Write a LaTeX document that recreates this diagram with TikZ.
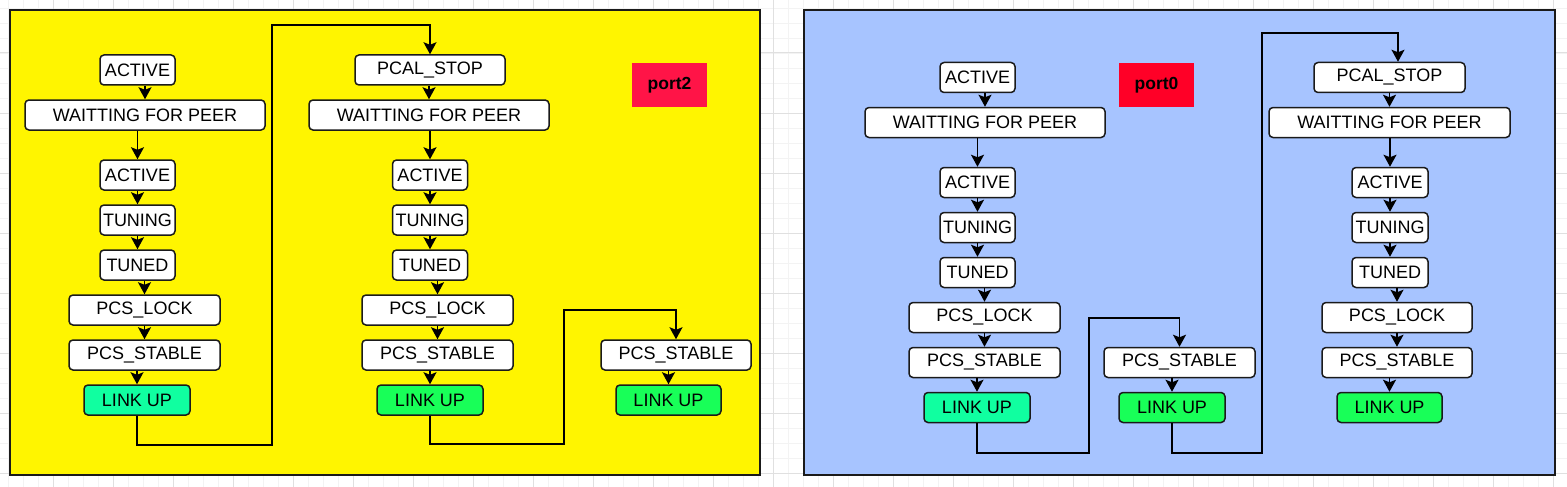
\documentclass[tikz,border=0pt]{standalone}
\usepackage{fontspec}
\setmainfont{Liberation Sans}
\usetikzlibrary{arrows.meta,calc}
\definecolor{yel}{HTML}{FFF500}
\definecolor{blu}{HTML}{A7C4FF}
\definecolor{redA}{HTML}{FF1447}
\definecolor{redB}{HTML}{FF0027}
\definecolor{grnA}{HTML}{10FFA0}
\definecolor{grnB}{HTML}{18FF58}
\definecolor{edge}{HTML}{1A1A1A}
\definecolor{gmin}{HTML}{F3F3F3}
\definecolor{gmaj}{HTML}{E0E0E0}
\tikzset{
  st/.style={draw=edge, line width=1.5pt, rounded corners=4pt, fill=white,
    minimum height=30pt, inner sep=0pt, text=black,
    font=\fontsize{18}{21}\selectfont},
  link/.style={st, fill=grnB},
  linka/.style={st, fill=grnA},
  port/.style={draw=none, minimum width=75pt, minimum height=44pt, inner sep=0pt,
    font=\bfseries\fontsize{17.5}{20}\selectfont},
  panel/.style={draw=edge, line width=1.5pt},
  arr/.style={draw=black, line width=1.6pt, -{Stealth[length=12pt,width=13pt,inset=2.5pt]}},
  minorgrid/.style={draw=gmin, line width=0.8pt},
  majorgrid/.style={draw=gmaj, line width=1pt}
}
\begin{document}
\begin{tikzpicture}[x=1pt,y=-1pt]
\useasboundingbox (0,0) rectangle (1567,487);
\fill[white] (0,0) rectangle (1567,487);
% grid
\foreach \i in {0,...,104} \draw[minorgrid] (8+15*\i,0) -- (8+15*\i,487);
\foreach \i in {0,...,32} \draw[minorgrid] (0,8+15*\i) -- (1567,8+15*\i);
\foreach \i in {0,...,25} \draw[majorgrid] (53+60*\i,0) -- (53+60*\i,487);
\foreach \i in {0,...,7} \draw[majorgrid] (0,53+60*\i) -- (1567,53+60*\i);
% panels
\filldraw[panel, fill=yel] (10,10) rectangle (760,475);
\filldraw[panel, fill=blu] (804,10) rectangle (1555,475);

% ---------- left panel ----------
\node[st, minimum width=75pt]  (a1) at (137.5,70)  {ACTIVE};
\node[st, minimum width=240pt] (a2) at (145,115)   {WAITTING FOR PEER};
\node[st, minimum width=75pt]  (a3) at (137.5,175) {ACTIVE};
\node[st, minimum width=75pt]  (a4) at (137.5,220) {TUNING};
\node[st, minimum width=75pt]  (a5) at (137.5,265) {TUNED};
\node[st, minimum width=151pt] (a6) at (144.5,310) {PCS\_LOCK};
\node[st, minimum width=151pt] (a7) at (144.5,355) {PCS\_STABLE};
\node[linka, minimum width=106pt] (a8) at (137,400) {LINK UP};

\node[st, minimum width=150pt] (b1) at (430,70)    {PCAL\_STOP};
\node[st, minimum width=240pt] (b2) at (429,115)   {WAITTING FOR PEER};
\node[st, minimum width=75pt]  (b3) at (430,175)   {ACTIVE};
\node[st, minimum width=75pt]  (b4) at (430,220)   {TUNING};
\node[st, minimum width=75pt]  (b5) at (430,265)   {TUNED};
\node[st, minimum width=151pt] (b6) at (437.5,310) {PCS\_LOCK};
\node[st, minimum width=151pt] (b7) at (437.5,355) {PCS\_STABLE};
\node[link, minimum width=106pt] (b8) at (430,400) {LINK UP};

\node[st, minimum width=150pt] (c1) at (676,355)   {PCS\_STABLE};
\node[link, minimum width=105pt] (c2) at (668.5,400) {LINK UP};

\node[port, fill=redA] (p2) at (669.5,85) {port2};

\foreach \s/\t in {a1/a2,a2/a3,a3/a4,a4/a5,a5/a6,a6/a7,a7/a8,
                   b1/b2,b2/b3,b3/b4,b4/b5,b5/b6,b6/b7,b7/b8,c1/c2}
  \draw[arr] (\s.south -| \t.north) -- (\t.north);

\draw[arr] (a8.south) -- (a8.south |- 0,445) -- (272,445) -- (272,25)
  -- (b1.north |- 0,25) -- (b1.north);
\draw[arr] (b8.south) -- (b8.south |- 0,444) -- (564,444) -- (564,310)
  -- (c1.north |- 0,310) -- (c1.north);

% ---------- right panel ----------
\node[st, minimum width=75pt]  (d1) at (977.5,77.5)  {ACTIVE};
\node[st, minimum width=240pt] (d2) at (985,122.5)   {WAITTING FOR PEER};
\node[st, minimum width=75pt]  (d3) at (977.5,182.5) {ACTIVE};
\node[st, minimum width=75pt]  (d4) at (977.5,227.5) {TUNING};
\node[st, minimum width=75pt]  (d5) at (977.5,272.5) {TUNED};
\node[st, minimum width=151pt] (d6) at (984.5,317.5) {PCS\_LOCK};
\node[st, minimum width=151pt] (d7) at (984.5,362.5) {PCS\_STABLE};
\node[linka, minimum width=106pt] (d8) at (977,407.5) {LINK UP};

\node[st, minimum width=151pt] (e1) at (1179.5,362.5) {PCS\_STABLE};
\node[link, minimum width=106pt] (e2) at (1172,407.5) {LINK UP};

\node[st, minimum width=151pt] (f1) at (1389.5,77.5)  {PCAL\_STOP};
\node[st, minimum width=241pt] (f2) at (1389.5,122.5) {WAITTING FOR PEER};
\node[st, minimum width=76pt]  (f3) at (1390,182.5)   {ACTIVE};
\node[st, minimum width=76pt]  (f4) at (1390,227.5)   {TUNING};
\node[st, minimum width=76pt]  (f5) at (1390,272.5)   {TUNED};
\node[st, minimum width=150pt] (f6) at (1397,317.5)   {PCS\_LOCK};
\node[st, minimum width=150pt] (f7) at (1397,362.5)   {PCS\_STABLE};
\node[link, minimum width=105pt] (f8) at (1389.5,407.5) {LINK UP};

\node[port, fill=redB] (p0) at (1156.5,85) {port0};

\foreach \s/\t in {d1/d2,d2/d3,d3/d4,d4/d5,d5/d6,d6/d7,d7/d8,e1/e2,
                   f1/f2,f2/f3,f3/f4,f4/f5,f5/f6,f6/f7,f7/f8}
  \draw[arr] (\s.south -| \t.north) -- (\t.north);

\coordinate (f1in) at ($(f1.north)+(8.5,0)$);
\draw[arr] (d8.south) -- (d8.south |- 0,453) -- (1089,453) -- (1089,318)
  -- (e1.north |- 0,318) -- (e1.north);
\draw[arr] (e2.south) -- (e2.south |- 0,453) -- (1262,453) -- (1262,33)
  -- (f1in |- 0,33) -- (f1in);
\end{tikzpicture}
\end{document}
